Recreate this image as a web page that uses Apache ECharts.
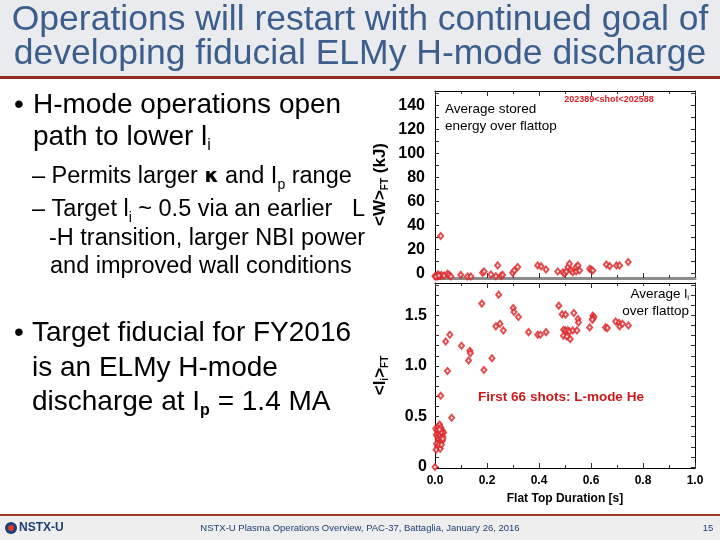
<!DOCTYPE html>
<html>
<head>
<meta charset="utf-8">
<script src="https://cdn.jsdelivr.net/npm/echarts@6/dist/echarts.min.js"></script>
<style>
html,body{margin:0;padding:0;background:#fff;}
#chart{width:720px;height:540px;}
</style>
</head>
<body>
<div id="chart"></div>
<script>
// ---- Top panel: average stored energy over flattop <W>_FT (kJ) vs flat-top duration [s]
const wDuration = [0.000,0.005,0.010,0.012,0.020,0.025,0.003,0.015,0.035,0.048,0.054,0.061,0.022,
  0.099,0.125,0.138,0.183,0.189,0.215,0.241,0.234,0.254,0.260,0.299,0.305,0.318,0.395,0.408,0.427,
  0.472,0.492,0.498,0.505,0.511,0.517,0.524,0.530,0.543,0.543,0.550,0.556,0.595,0.601,0.607,
  0.659,0.672,0.698,0.710,0.743];
const wEnergy = [-2.5,-2.0,-2.8,-1.0,-2.2,-1.5,-2.8,-1.9,-1.9,-0.5,-1.4,-2.8,31.0,
  -1.4,-2.8,-2.8,0.3,1.4,-1.1,6.5,-2.5,-2.2,-1.4,0.3,2.3,5.1,6.5,5.7,3.1,
  1.4,0.8,-0.5,1.4,5.1,7.9,2.3,0.8,1.4,5.1,6.5,2.3,3.7,2.9,2.3,
  7.3,5.9,6.5,6.5,9.3];

// ---- Bottom panel: average internal inductance over flattop <l_i>_FT vs flat-top duration [s]
const liDuration = [0.245,0.180,0.301,0.304,0.321,0.476,0.489,0.502,0.534,0.550,0.552,
  0.607,0.611,0.607,0.605,0.595,0.656,0.663,0.695,0.708,0.710,0.721,0.744,
  0.234,0.250,0.263,0.360,0.395,0.405,0.427,
  0.495,0.502,0.511,0.517,0.494,0.507,0.520,0.530,0.546,
  0.041,0.057,0.102,0.134,0.136,0.129,0.219,0.188,0.048,0.022,0.064,
  0.003,0.008,0.012,0.018,0.022,0.028,0.033,0.005,0.010,0.015,0.020,0.025,0.030,
  0.012,0.018,0.022,0.028,0.006,0.010,0.015,0.020,0.004,0.025,0.017,0.030,0.000];
const liValue = [1.705,1.616,1.573,1.534,1.484,1.596,1.510,1.507,1.523,1.464,1.430,
  1.497,1.484,1.467,1.457,1.381,1.381,1.374,1.440,1.424,1.391,1.417,1.400,
  1.391,1.417,1.351,1.334,1.308,1.308,1.334,
  1.358,1.351,1.351,1.341,1.298,1.291,1.265,1.351,1.351,
  1.242,1.308,1.199,1.149,1.126,1.053,1.076,0.960,0.950,0.705,0.487,
  0.380,0.360,0.400,0.420,0.390,0.360,0.340,0.320,0.300,0.330,0.310,0.340,0.300,
  0.270,0.250,0.280,0.260,0.230,0.200,0.220,0.180,0.170,0.220,0.370,0.280,0.000];

// ---- Axis ticks / labels
const xTickLabels = ['0.0','0.2','0.4','0.6','0.8','1.0'];
const wTickValues = [0,20,40,60,80,100,120,140];
const wMinorTickValues = [0,10,20,30,40,50,60,70,80,90,100,110,120,130,140,150];
const liTickValues = [0,0.5,1.0,1.5];
const liTickLabels = ['0','0.5','1.0','1.5'];
const liMinorTickValues = [0,0.1,0.2,0.3,0.4,0.5,0.6,0.7,0.8,0.9,1.0,1.1,1.2,1.3,1.4,1.5,1.6,1.7,1.8];

const FONT = '"Liberation Sans", Arial, sans-serif';
const RED = '#dc2326';
const BLUE = '#3b5e8c';

const chart = echarts.init(document.getElementById('chart'), null, {renderer: 'canvas'});

function frameX(grid, pos, opts) {
  return Object.assign({
    type: 'value', gridIndex: grid, position: pos, min: 0, max: 1, interval: 0.2,
    axisLine: {show: true, onZero: false, lineStyle: {color: '#000', width: 1}},
    axisTick: {show: true, inside: true, length: 5, lineStyle: {color: '#333'}},
    minorTick: {show: true, splitNumber: 2, length: 3, lineStyle: {color: '#333'}},
    axisLabel: {show: false},
    splitLine: {show: false}
  }, opts || {});
}
function frameY(grid, pos, min, max, ticks, opts) {
  return Object.assign({
    type: 'value', gridIndex: grid, position: pos, min: min, max: max,
    axisLine: {show: true, onZero: false, lineStyle: {color: '#000', width: 1}},
    axisTick: {show: true, inside: true, length: 4, customValues: ticks, lineStyle: {color: '#333'}},
    axisLabel: {show: false},
    splitLine: {show: false}
  }, opts || {});
}

const subBlue = {fontFamily: FONT, fontSize: 14, color: '#3e5a80', verticalAlign: 'bottom', lineHeight: 14};
const mainBlue = {fontFamily: FONT, fontSize: 23.5, color: '#3e5a80', lineHeight: 30};
const mainBlack = {fontFamily: FONT, fontSize: 28, color: '#000', lineHeight: 34};
const subBlack = {fontFamily: FONT, fontSize: 16, color: '#000', verticalAlign: 'bottom', lineHeight: 16};

function txt(x, y, text, rich, extra) {
  return Object.assign({
    type: 'text', x: x, y: y, z: 10,
    style: Object.assign({text: text, rich: rich, verticalAlign: 'middle', align: 'left'}, extra || {})
  });
}

const option = {
  backgroundColor: '#ffffff',
  animation: false,
  grid: [
    {left: 435, right: 25, top: 91, bottom: 262},
    {left: 435, right: 25, top: 283, bottom: 72}
  ],
  xAxis: [
    frameX(0, 'bottom', {axisLine: {show: true, onZero: false, lineStyle: {color: '#8c8c8c', width: 3}}}),
    frameX(0, 'top'),
    frameX(1, 'bottom', {
      name: 'Flat Top Duration [s]', nameLocation: 'middle', nameGap: 25,
      nameTextStyle: {fontFamily: FONT, fontSize: 12, fontWeight: 'bold', color: '#000'},
      axisLabel: {show: true, margin: 7, fontFamily: FONT, fontSize: 12, fontWeight: 'bold', color: '#000',
        formatter: v => xTickLabels[Math.round(v / 0.2)]}
    }),
    frameX(1, 'top')
  ],
  yAxis: [
    frameY(0, 'left', -4, 152, wMinorTickValues, {
      name: '{a|<W>}{s|FT}{a| (kJ)}', nameLocation: 'middle', nameGap: 45, nameRotate: 90,
      nameTextStyle: {rich: {
        a: {fontFamily: FONT, fontSize: 17, fontWeight: 'bold', color: '#000', lineHeight: 20},
        s: {fontFamily: FONT, fontSize: 10, fontWeight: 'bold', color: '#000', verticalAlign: 'bottom', lineHeight: 10}
      }},
      axisLabel: {show: true, margin: 10, customValues: wTickValues, fontFamily: FONT, fontSize: 16,
        fontWeight: 'bold', color: '#000'}
    }),
    frameY(0, 'right', -4, 152, wMinorTickValues),
    frameY(1, 'left', -0.01, 1.82, liMinorTickValues, {
      name: '{a|<l}{s|i}{a|>}{s|FT}', nameLocation: 'middle', nameGap: 45, nameRotate: 90,
      nameTextStyle: {rich: {
        a: {fontFamily: FONT, fontSize: 17, fontWeight: 'bold', color: '#000', lineHeight: 20},
        s: {fontFamily: FONT, fontSize: 10, fontWeight: 'bold', color: '#000', verticalAlign: 'bottom', lineHeight: 10}
      }},
      axisLabel: {show: true, margin: 8, customValues: liTickValues, fontFamily: FONT, fontSize: 16,
        fontWeight: 'bold', color: '#000',
        formatter: v => { const i = liTickValues.findIndex(t => Math.abs(t - v) < 1e-6); return i >= 0 ? liTickLabels[i] : ''; }}
    }),
    frameY(1, 'right', -0.01, 1.82, liMinorTickValues)
  ],
  series: [
    {
      type: 'scatter', xAxisIndex: 0, yAxisIndex: 0,
      symbol: 'emptyDiamond', symbolSize: [5, 6],
      itemStyle: {color: RED, borderColor: RED, borderWidth: 1},
      data: wDuration.map((d, i) => [d, wEnergy[i]])
    },
    {
      type: 'scatter', xAxisIndex: 2, yAxisIndex: 2,
      symbol: 'emptyDiamond', symbolSize: [5, 6],
      itemStyle: {color: RED, borderColor: RED, borderWidth: 1},
      data: liDuration.map((d, i) => [d, liValue[i]])
    }
  ],
  graphic: [
    // title band
    {type: 'rect', shape: {x: 0, y: 0, width: 720, height: 76}, style: {fill: '#e9ebee'}, z: 0},
    {type: 'rect', shape: {x: 0, y: 76, width: 720, height: 3}, style: {fill: '#922a22'}, z: 1},
    {type: 'text', x: 360, y: 20, z: 10, style: {text: 'Operations will restart with continued goal of',
      fontFamily: FONT, fontSize: 35.5, fill: BLUE, align: 'center', verticalAlign: 'middle'}},
    {type: 'text', x: 360, y: 54, z: 10, style: {text: 'developing fiducial ELMy H-mode discharge',
      fontFamily: FONT, fontSize: 35.5, fill: BLUE, align: 'center', verticalAlign: 'middle'}},
    // footer
    {type: 'rect', shape: {x: 0, y: 516, width: 720, height: 24}, style: {fill: '#eeeeee'}, z: 0},
    {type: 'rect', shape: {x: 0, y: 514, width: 720, height: 2}, style: {fill: '#9a3b2c'}, z: 1},
    {type: 'circle', shape: {cx: 11, cy: 528, r: 6}, style: {fill: '#1d3f77'}, z: 2},
    {type: 'circle', shape: {cx: 11, cy: 528, r: 3}, style: {fill: '#d63b2a'}, z: 3},
    {type: 'text', x: 19, y: 528, z: 10, style: {text: 'NSTX-U', fontFamily: FONT, fontSize: 12,
      fontWeight: 'bold', fill: '#1d3f77', verticalAlign: 'middle'}},
    {type: 'text', x: 360, y: 528, z: 10, style: {text: 'NSTX-U Plasma Operations Overview, PAC-37, Battaglia, January 26, 2016',
      fontFamily: FONT, fontSize: 9.5, fill: '#1d3f77', align: 'center', verticalAlign: 'middle'}},
    {type: 'text', x: 708, y: 528, z: 10, style: {text: '15', fontFamily: FONT, fontSize: 9.5,
      fill: '#1d3f77', align: 'center', verticalAlign: 'middle'}},
    // left bullets
    txt(14, 105, '{a|•}', {a: mainBlack}),
    txt(33, 105, '{a|H-mode operations open}', {a: mainBlack}),
    txt(33, 137, '{a|path to lower l}{s|i}', {a: mainBlack, s: subBlack}),
    txt(32, 177, '{a|– Permits larger }{k|κ}{a| and I}{s|p}{a| range}', {a: mainBlue, s: subBlue,
      k: {fontFamily: '"DejaVu Sans", sans-serif', fontSize: 20, fontWeight: 'bold', color: '#3e5a80', lineHeight: 30}}),
    txt(32, 210, '{a|– Target l}{s|i}{a| ~ 0.5 via an earlier   L}', {a: mainBlue, s: subBlue}),
    txt(49, 239, '{a|-H transition, larger NBI power}', {a: mainBlue}),
    txt(50, 267, '{a|and improved wall conditions}', {a: mainBlue}),
    txt(14, 333, '{a|•}', {a: mainBlack}),
    txt(32, 333, '{a|Target fiducial for FY2016}', {a: mainBlack}),
    txt(32, 368, '{a|is an ELMy H-mode}', {a: mainBlack}),
    txt(32, 402, '{a|discharge at I}{s|p}{a| = 1.4 MA}', {a: mainBlack,
      s: Object.assign({}, subBlack, {fontWeight: 'bold'})}),
    // plot annotations
    {type: 'text', x: 445, y: 109, z: 10, style: {text: 'Average stored', fontFamily: FONT, fontSize: 13.5,
      fill: '#000', verticalAlign: 'middle'}},
    {type: 'text', x: 445, y: 126, z: 10, style: {text: 'energy over flattop', fontFamily: FONT, fontSize: 13.5,
      fill: '#000', verticalAlign: 'middle'}},
    {type: 'text', x: 609, y: 100, z: 10, style: {text: '202389<shot<202588', fontFamily: FONT, fontSize: 9,
      fontWeight: 'bold', fill: RED, align: 'center', verticalAlign: 'middle'}},
    {type: 'text', x: 689, y: 294, z: 10, style: {text: '{a|Average l}{s|i}', align: 'right', verticalAlign: 'middle',
      backgroundColor: '#fff',
      rich: {a: {fontFamily: FONT, fontSize: 13.5, color: '#000', lineHeight: 16},
             s: {fontFamily: FONT, fontSize: 8, color: '#000', verticalAlign: 'bottom', lineHeight: 8}}}},
    {type: 'text', x: 689, y: 311, z: 10, style: {text: 'over flattop', fontFamily: FONT, fontSize: 13.5,
      fill: '#000', align: 'right', verticalAlign: 'middle', backgroundColor: '#fff'}},
    {type: 'text', x: 561, y: 397, z: 10, style: {text: 'First 66 shots: L-mode He', fontFamily: FONT, fontSize: 13.5,
      fontWeight: 'bold', fill: '#cc1a1a', align: 'center', verticalAlign: 'middle'}}
  ]
};
chart.setOption(option);
</script>
</body>
</html>
